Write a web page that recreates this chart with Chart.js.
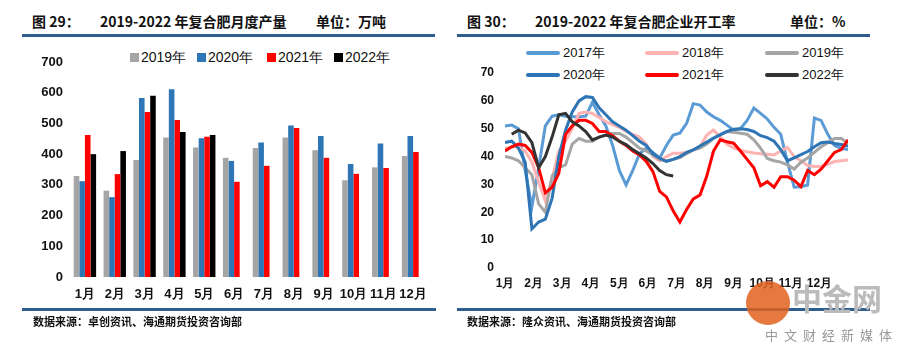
<!DOCTYPE html>
<html>
<head>
<meta charset="utf-8">
<script src="https://cdn.jsdelivr.net/npm/chart.js@4.4.1/dist/chart.umd.min.js"></script>
<style>
  body { margin: 0; width: 901px; height: 352px; background: #fff; position: relative; overflow: hidden; font-family: "Liberation Sans", Arial, sans-serif; }
  .abs { position: absolute; white-space: nowrap; }
  .ttl { font-family: "Noto Sans CJK SC", sans-serif; font-weight: 700; font-size: 14px; line-height: 16px; color: #111; }
  .rule { position: absolute; height: 3px; background: #2F5D8E; }
  .src { font-family: "Noto Sans CJK SC", sans-serif; font-weight: 700; font-size: 11px; line-height: 13px; color: #111; }
  .lg1 { font-size: 14px; line-height: 16px; color: #111; }
  .lg2 { font-size: 13px; line-height: 15px; color: #111; }
  .box { position: absolute; width: 9px; height: 9px; }
  .seg { position: absolute; width: 34px; height: 4px; border-radius: 2px; }
  .chart { position: absolute; top: 0; height: 352px; }
</style>
</head>
<body>

<!-- left panel -->
<div class="abs ttl" style="left:32px;top:13px;">图 29：</div>
<div class="abs ttl" style="left:100px;top:13px;">2019-2022 年复合肥月度产量</div>
<div class="abs ttl" style="left:316px;top:13px;">单位：万吨</div>
<div class="rule" style="left:22px;top:34px;width:413px;"></div>

<!-- right panel -->
<div class="abs ttl" style="left:467px;top:13px;">图 30：</div>
<div class="abs ttl" style="left:535px;top:13px;">2019-2022 年复合肥企业开工率</div>
<div class="abs ttl" style="left:790px;top:13px;">单位：%</div>
<div class="rule" style="left:457px;top:34px;width:413px;"></div>

<div id="legend1"></div>
<div id="legend2"></div>

<div class="chart" style="left:0;width:450px;"><canvas id="barChart"></canvas></div>
<div class="chart" style="left:450px;width:451px;"><canvas id="lineChart"></canvas></div>

<div class="rule" style="left:22px;top:308px;width:414px;"></div>
<div class="rule" style="left:457px;top:308px;width:413px;"></div>
<div class="abs src" style="left:33px;top:315px;">数据来源：卓创资讯、海通期货投资咨询部</div>
<div class="abs src" style="left:467px;top:315px;">数据来源：隆众资讯、海通期货投资咨询部</div>

<!-- watermark -->
<div class="abs" style="left:746px;top:281px;width:44px;height:44px;border-radius:22px;background:#E0621E;opacity:0.85;"></div>
<div class="abs" style="left:792px;top:280px;font-family:'Noto Sans CJK SC';font-size:30px;line-height:34px;color:#bbb;font-weight:700;">中金网</div>
<div class="abs" style="left:765px;top:327px;font-family:'Noto Sans CJK SC';font-size:13px;line-height:15px;color:#999;letter-spacing:6px;">中文财经新媒体</div>

<script>
// ---- left chart data (万吨) ----
const months = ['1月', '2月', '3月', '4月', '5月', '6月', '7月', '8月', '9月', '10月', '11月', '12月'];
const prod2019 = [329, 281, 381, 454, 422, 388, 420, 454, 413, 315, 357, 394];
const prod2020 = [312, 260, 583, 611, 452, 378, 438, 493, 459, 368, 435, 459];
const prod2021 = [462, 335, 537, 511, 457, 310, 362, 485, 388, 336, 355, 407];
const prod2022 = [400, 410, 590, 472, 462];
const yTicks1 = [0, 100, 200, 300, 400, 500, 600, 700];

// ---- right chart data (%), weekly ----
const weeks = Array.from({ length: 52 }, (_, i) => i);
const rate2017 = [51, 51.3, 50, 35, 22, 36, 51, 54.5, 55, 54.5, 54.3, 54.3, 54.5, 59.5, 55, 51, 44, 35, 29.8, 35, 41, 43, 41.5, 39.5, 44, 47.7, 48.4, 51.9, 59, 58.5, 56, 54.3, 53, 51.3, 49.5, 50, 53, 57.4, 55.5, 53.5, 50.5, 48, 38, 29, 29.2, 29.8, 53.8, 53, 48, 44, 43, 42.5];
const rate2018 = [43, 43.5, 43.5, 42, 38, 31, 24, 32, 42, 45.5, 50, 55.5, 56, 55.5, 54, 52.5, 51.5, 50.5, 49, 48, 47, 44.5, 40, 38.4, 40, 41.2, 41.2, 41.5, 42.4, 43.5, 47.7, 49.5, 47, 44.5, 43, 42.3, 41.7, 41.3, 41, 40.8, 40.6, 42, 43.3, 40, 38.5, 36.8, 36.4, 36.4, 37.2, 38.2, 38.5, 38.8];
const rate2019 = [40, 39.5, 38.5, 36, 33.5, 23, 20, 33, 36, 37, 44.5, 46.5, 45.5, 45.5, 47, 47.7, 48.3, 48.3, 47, 45, 43, 42, 40.6, 39, 38.3, 39, 39.6, 41, 42.4, 43, 44.5, 46.5, 48, 49, 48.7, 48.4, 48, 46, 43, 39.3, 38.5, 38, 37, 35.5, 38, 39.5, 41.5, 43.5, 45, 46.5, 46.5, 44.8];
const rate2020 = [45, 45.5, 43, 38, 14, 16.5, 17.5, 25, 40, 49.5, 56, 60, 61.5, 61.2, 57.5, 55, 52.5, 51, 49.5, 47.5, 45.5, 44, 41, 39.4, 38.3, 39, 40, 41.5, 42.4, 43.8, 45.2, 46.6, 47.8, 49, 49.8, 50, 49.7, 49, 47.5, 46.8, 45.5, 42.5, 38.5, 39.5, 40.7, 41.8, 43.5, 45, 45.2, 44.7, 44.3, 43.8];
const rate2021 = [42, 43.5, 44.5, 44, 41.5, 36, 27, 29, 34, 48, 51, 53, 53, 51.9, 49, 49, 47.5, 45.5, 44, 42, 40.6, 38.3, 34.6, 27.5, 25.5, 20.5, 16.5, 21, 24.8, 26.2, 33, 42, 46, 45.3, 44.8, 42, 39, 36, 29.5, 31, 29, 32.8, 32.8, 31.5, 29.2, 35, 33.5, 35.5, 38.5, 41.5, 42.5, 46];
const rate2022 = [null, 48, 49.5, 48.5, 45, 36, 40, 47, 55, 55.5, 52.5, 51, 49, 46, 47, 47.7, 47, 45.5, 44.3, 42.5, 41, 39.5, 37.5, 35, 33.5, 33];

const barSeries = [
    { label: '2019年', data: prod2019, color: '#A5A5A5' },
    { label: '2020年', data: prod2020, color: '#2E75B6' },
    { label: '2021年', data: prod2021, color: '#FF0000' },
    { label: '2022年', data: prod2022, color: '#000000' }
];
const lineSeries = [
    { label: '2017年', data: rate2017, color: '#5B9BD5' },
    { label: '2018年', data: rate2018, color: '#FFB3B3' },
    { label: '2019年', data: rate2019, color: '#A5A5A5' },
    { label: '2020年', data: rate2020, color: '#2E75B6' },
    { label: '2021年', data: rate2021, color: '#FF0000' },
    { label: '2022年', data: rate2022, color: '#333333' }
];

Chart.defaults.font.family = '"Liberation Sans", Arial, sans-serif';
Chart.defaults.color = '#111';
Chart.defaults.animation = false;

// legends drawn as html so they can sit over the plot like the original
const lg1 = document.getElementById('legend1');
const lg1X = [130, 197, 267, 334];
barSeries.forEach((s, i) => {
    lg1.innerHTML += `<div class="box" style="left:${lg1X[i]}px;top:53px;background:${s.color}"></div>` +
        `<div class="abs lg1" style="left:${lg1X[i] + 11}px;top:49px;">${s.label}</div>`;
});
const lg2 = document.getElementById('legend2');
const lg2X = [526, 645, 765];
lineSeries.forEach((s, i) => {
    const x = lg2X[i % 3];
    const y = i < 3 ? 51 : 73;
    lg2.innerHTML += `<div class="seg" style="left:${x}px;top:${y}px;background:${s.color}"></div>` +
        `<div class="abs lg2" style="left:${x + 37}px;top:${y - 6}px;">${s.label}</div>`;
});

const tickFont = { size: 13, weight: 'bold' };

new Chart(document.getElementById('barChart'), {
    type: 'bar',
    data: {
        labels: months,
        datasets: barSeries.map(s => ({
            label: s.label,
            data: s.data,
            backgroundColor: s.color,
            barPercentage: 1.0,
            categoryPercentage: 0.75
        }))
    },
    options: {
        responsive: true,
        maintainAspectRatio: false,
        layout: { padding: { left: 0, top: 62, right: 22, bottom: 45 } },
        plugins: { legend: { display: false }, tooltip: { enabled: false } },
        scales: {
            x: {
                grid: { display: false, drawTicks: false },
                border: { display: false },
                ticks: { font: tickFont, padding: 10, maxRotation: 0, autoSkip: false },
                afterFit: s => { s.height = 30; }
            },
            y: {
                min: 0, max: 700,
                grid: { display: false, drawTicks: false },
                border: { display: false },
                afterBuildTicks: s => { s.ticks = yTicks1.map(v => ({ value: v })); },
                ticks: { font: tickFont, padding: 7 },
                afterFit: s => { s.width = 70; }
            }
        }
    }
});

new Chart(document.getElementById('lineChart'), {
    type: 'line',
    data: {
        labels: weeks,
        datasets: lineSeries.map((s, i) => ({
            label: s.label,
            data: s.data,
            borderColor: s.color,
            backgroundColor: s.color,
            borderWidth: 3,
            pointRadius: 0,
            tension: 0,
            fill: false,
            order: lineSeries.length - i
        }))
    },
    options: {
        responsive: true,
        maintainAspectRatio: false,
        layout: { padding: { left: 0, top: 73, right: 53, bottom: 54 } },
        plugins: { legend: { display: false }, tooltip: { enabled: false } },
        scales: {
            x: {
                type: 'linear',
                min: 0, max: 51,
                grid: { display: false, drawTicks: false },
                border: { display: false },
                afterBuildTicks: s => { s.ticks = months.map((m, i) => ({ value: i * 51 / 12 })); },
                ticks: {
                    font: { size: 12, weight: 'bold' },
                    padding: 8, maxRotation: 0, autoSkip: false,
                    callback: (v, i) => months[i]
                },
                afterFit: s => { s.height = 30; }
            },
            y: {
                min: 0, max: 70,
                grid: { display: false, drawTicks: false },
                border: { display: false },
                ticks: { font: { size: 12, weight: 'bold' }, padding: 11, stepSize: 10 },
                afterFit: s => { s.width = 55; }
            }
        }
    }
});
</script>
</body>
</html>
